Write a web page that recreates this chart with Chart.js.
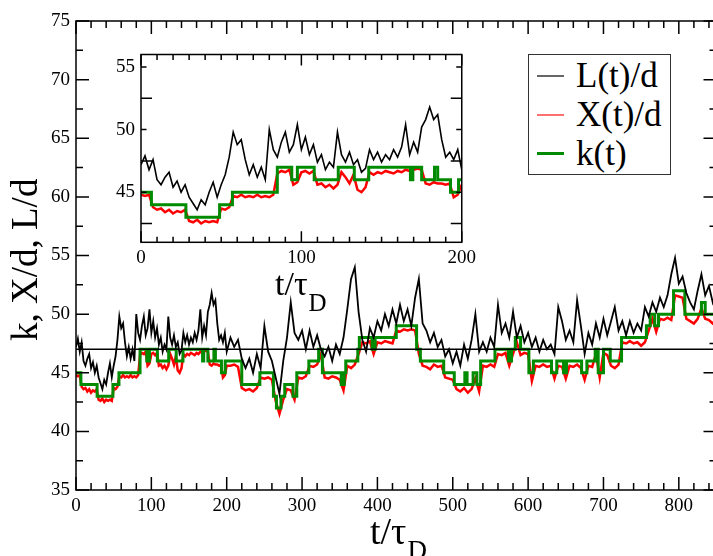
<!DOCTYPE html>
<html>
<head>
<meta charset="utf-8">
<script src="https://cdn.jsdelivr.net/npm/chart.js@4.4.1/dist/chart.umd.min.js"></script>
<style>
  body { margin: 0; background: #fff; }
  #wrap { position: relative; width: 713px; height: 556px; overflow: hidden; }
  #main { position: absolute; left: 0; top: 0; }
  #inset { position: absolute; left: 100px; top: 30px; }
  #legend { position: absolute; left: 528px; top: 54px; width: 143px; height: 121px;
    box-sizing: border-box; border: 1.5px solid #333; background: #fff;
    font-family: "Liberation Serif", "DejaVu Serif", serif; font-size: 35px; color: #000; }
  .row { position: absolute; left: 0; height: 40px; width: 140px; }
  .row .ln { position: absolute; left: 8px; width: 27px; }
  .row .tx { position: absolute; left: 47px; top: 0; line-height: 40px; white-space: nowrap; }
</style>
</head>
<body>
<div id="wrap">
  <canvas id="main" width="720" height="556"></canvas>
  <canvas id="inset" width="380" height="290"></canvas>
  <div id="legend">
    <div class="row" style="top:1px"><div class="ln" style="top:19px;height:1.5px;background:#666"></div><div class="tx">L(t)/d</div></div>
    <div class="row" style="top:40px"><div class="ln" style="top:19px;height:1.5px;background:#ff7070"></div><div class="tx">X(t)/d</div></div>
    <div class="row" style="top:79px"><div class="ln" style="top:18px;height:3px;background:#008b00"></div><div class="tx">k(t)</div></div>
  </div>
</div>
<script>
// time axis (t / tau_D): every 2.5 up to 200 (inset range), then every 5
const times = [
  0, 2.5, 5, 7.5, 10, 12.5, 15, 17.5, 20, 22.5,
  25, 27.5, 30, 32.5, 35, 37.5, 40, 42.5, 45, 47.5,
  50, 52.5, 55, 57.5, 60, 62.5, 65, 67.5, 70, 72.5,
  75, 77.5, 80, 82.5, 85, 87.5, 90, 92.5, 95, 97.5,
  100, 102.5, 105, 107.5, 110, 112.5, 115, 117.5, 120, 122.5,
  125, 127.5, 130, 132.5, 135, 137.5, 140, 142.5, 145, 147.5,
  150, 152.5, 155, 157.5, 160, 162.5, 165, 167.5, 170, 172.5,
  175, 177.5, 180, 182.5, 185, 187.5, 190, 192.5, 195, 197.5,
  200, 205, 210, 215, 220, 225, 230, 235, 240, 245,
  250, 255, 260, 265, 270, 275, 280, 285, 290, 295,
  300, 305, 310, 315, 320, 325, 330, 335, 340, 345,
  350, 355, 360, 365, 370, 375, 380, 385, 390, 395,
  400, 405, 410, 415, 420, 425, 430, 435, 440, 445,
  450, 455, 460, 465, 470, 475, 480, 485, 490, 495,
  500, 505, 510, 515, 520, 525, 530, 535, 540, 545,
  550, 555, 560, 565, 570, 575, 580, 585, 590, 595,
  600, 605, 610, 615, 620, 625, 630, 635, 640, 645,
  650, 655, 660, 665, 670, 675, 680, 685, 690, 695,
  700, 705, 710, 715, 720, 725, 730, 735, 740, 745,
  750, 755, 760, 765, 770, 775, 780, 785, 790, 795,
  800, 805, 810, 815, 820, 825, 830, 835, 840, 845,
  850
];

// L(t)/d
const lengthL = [
  47.2, 47.9, 46.8, 47.6, 46.0, 45.6, 46.2, 46.6, 45.4, 45.9,
  45.0, 45.6, 44.6, 44.1, 43.6, 44.4, 44.0, 45.0, 45.8, 44.6,
  45.6, 46.4, 47.8, 49.8, 48.8, 49.2, 47.6, 46.4, 47.2, 46.2,
  47.0, 46.0, 50.0, 48.4, 47.8, 49.0, 49.8, 48.2, 48.8, 50.4,
  48.4, 49.4, 48.0, 48.8, 47.4, 48.0, 46.8, 47.4, 47.0, 49.8,
  48.0, 47.4, 48.2, 47.2, 47.6, 46.6, 46.9, 48.4, 47.6, 48.2,
  47.4, 48.0, 47.6, 48.4, 47.8, 48.6, 50.4, 48.0, 49.0, 48.2,
  50.2, 50.8, 51.8, 50.8, 51.2, 49.2, 47.8, 48.2, 47.6, 48.4,
  46.8, 48.0, 47.2, 47.8, 46.2, 45.4, 46.2, 45.0, 46.6, 45.4,
  49.0, 46.8, 46.0, 44.6, 43.2, 46.0, 48.0, 51.0, 48.4, 47.8,
  48.6, 47.0, 48.6, 47.2, 48.2, 47.0, 46.4, 47.2, 46.0, 47.4,
  46.6, 48.0, 50.4, 53.0, 54.0, 50.2, 47.8, 46.8, 48.8, 48.0,
  49.4, 48.6, 50.0, 49.0, 50.4, 49.2, 50.8, 49.4, 50.4, 49.0,
  51.4, 53.0, 49.2, 48.6, 47.6, 48.4, 47.2, 47.8, 46.4, 47.0,
  45.8, 46.8, 45.6, 47.4, 46.2, 47.8, 50.0, 46.8, 47.6, 46.8,
  48.0, 47.2, 50.8, 48.4, 49.2, 48.0, 50.2, 48.0, 49.0, 47.6,
  48.4, 47.2, 48.0, 46.8, 47.8, 47.0, 47.4, 46.6, 50.6, 49.4,
  47.8, 48.6, 47.6, 51.2, 49.0, 46.6, 48.4, 47.4, 49.2, 48.0,
  49.6, 48.2, 49.4, 50.6, 48.6, 49.4, 48.2, 49.4, 48.4, 49.2,
  48.6, 50.6, 49.8, 51.0, 50.2, 51.4, 50.6, 51.6, 53.4, 54.8,
  52.6, 53.2, 51.8, 51.0, 50.4, 52.0, 53.4, 51.6, 52.4, 51.0,
  52.0
];

// X(t)/d
const positionX = [
  44.8, 44.7, 44.8, 43.8, 43.6, 43.7, 43.4, 43.6, 43.3, 43.5,
  43.4, 43.6, 42.7, 42.6, 42.8, 42.5, 42.7, 42.6, 42.7, 42.6,
  43.7, 43.6, 43.8, 44.7, 44.6, 44.8, 44.6, 44.7, 44.6, 44.8,
  44.6, 44.7, 44.6, 44.8, 46.5, 46.7, 46.6, 46.8, 45.6, 45.8,
  46.6, 46.7, 46.5, 46.7, 45.6, 45.7, 45.4, 45.6, 45.3, 45.6,
  46.6, 46.2, 45.7, 46.4, 45.2, 45.0, 45.4, 46.6, 46.4, 46.6,
  46.5, 46.7, 46.6, 46.5, 46.7, 46.6, 46.8, 46.7, 46.8, 46.9,
  46.8, 45.7, 45.6, 45.8, 45.7, 45.7, 45.6, 45.7, 44.6, 44.8,
  45.6, 45.6, 45.7, 45.5, 43.7, 43.5, 43.6, 43.4, 43.7, 44.6,
  44.5, 44.6, 44.4, 42.6, 41.5, 42.7, 43.6, 43.5, 42.7, 44.6,
  44.5, 44.7, 45.6, 45.5, 45.7, 46.6, 44.6, 44.5, 44.7, 44.6,
  44.4, 43.5, 45.6, 45.4, 45.7, 46.6, 47.6, 47.5, 47.7, 46.6,
  47.6, 47.5, 47.7, 47.6, 47.5, 48.6, 48.5, 48.7, 48.6, 48.7,
  48.6, 46.6, 45.6, 45.5, 45.3, 45.7, 45.5, 45.6, 44.6, 44.5,
  44.4, 43.6, 43.4, 43.7, 43.3, 43.6, 44.5, 43.4, 45.6, 45.5,
  45.7, 45.5, 46.6, 46.5, 46.7, 45.6, 46.6, 47.6, 46.5, 46.7,
  46.6, 44.3, 45.6, 45.5, 45.7, 45.5, 45.6, 44.5, 45.6, 45.5,
  44.5, 45.6, 45.5, 45.7, 45.4, 44.4, 45.6, 45.5, 46.6, 44.6,
  46.7, 46.5, 45.6, 45.4, 45.7, 47.6, 47.5, 47.7, 47.5, 47.6,
  47.3, 47.6, 48.6, 49.6, 48.5, 49.6, 49.5, 49.7, 49.5, 51.6,
  51.5, 51.4, 49.6, 49.4, 49.2, 49.6, 50.5, 49.6, 49.5, 49.2,
  49.5
];

// k(t): times where k jumps, and the value held from there
const kTimes = [
  0, 6.5, 28, 49, 57, 85, 94, 97.5, 108, 123,
  133, 142, 168, 169.5, 175, 183, 185, 193, 198, 220,
  244, 262, 266, 272, 277, 288, 293, 309, 322, 327,
  352, 356, 358, 374, 376, 393, 397, 425, 452, 457,
  488, 502, 516, 519, 527, 532, 537, 556, 574, 578,
  583, 590, 601, 607, 631, 638, 647, 651, 671, 678,
  689, 693, 700, 709, 724, 757, 762, 768, 773, 793,
  808, 830, 835, 850
];
const kValues = [
  45, 44, 43, 44, 45, 47, 46, 47, 46, 47,
  46, 47, 46, 47, 46, 47, 46, 45, 46, 44,
  45, 43, 42, 43, 44, 43, 45, 46, 47, 45,
  44, 45, 46, 47, 48, 47, 48, 49, 47, 46,
  45, 44, 45, 44, 45, 44, 46, 47, 46, 47,
  48, 47, 45, 46, 45, 46, 45, 46, 45, 46,
  47, 45, 47, 46, 48, 49, 50, 49, 50, 52,
  50, 51, 50, 50
];

const refLevel = 47;   // horizontal reference line in the main panel
const mainYTicks = [35, 40, 45, 50, 55, 60, 65, 70, 75];
const mainXTicks = [0, 100, 200, 300, 400, 500, 600, 700, 800];
const insetYTicks = [45, 50, 55];
const insetXTicks = [0, 100, 200];

const SERIF = '"Liberation Serif", "DejaVu Serif", serif';

function pts(xs, ys) { return xs.map((t, i) => ({ x: t, y: ys[i] })); }

function makeDatasets(withRef, lw) {
  const ds = [];
  if (withRef) {
    ds.push({ data: [{ x: 0, y: refLevel }, { x: 850, y: refLevel }], borderColor: '#000', borderWidth: 1.5 });
  }
  ds.push({ data: pts(times, lengthL), borderColor: '#000', borderWidth: lw });
  ds.push({ data: pts(kTimes, kValues), borderColor: '#008b00', borderWidth: 3, stepped: true });
  ds.push({ data: pts(times, positionX), borderColor: '#ff0000', borderWidth: 2.5 });
  return ds;
}

// frame with inward ticks on all four sides, plus axis titles
const frameTicks = {
  id: 'frameTicks',
  beforeDraw(chart, args, o) {
    if (!o.fillWhite) return;
    const { ctx, chartArea: a } = chart;
    ctx.save();
    ctx.fillStyle = '#fff';
    ctx.fillRect(a.left, a.top, a.right - a.left, a.bottom - a.top);
    ctx.restore();
  },
  afterDraw(chart, args, o) {
    const { ctx, chartArea: a, scales: { x, y } } = chart;
    ctx.save();
    ctx.strokeStyle = '#000';
    ctx.lineWidth = o.lw;
    ctx.strokeRect(a.left, a.top, a.right - a.left, a.bottom - a.top);
    ctx.beginPath();
    for (let v = x.min; v <= x.max + 1e-6; v += o.xMinor) {
      const len = Math.abs(v % o.xMajor) < 1e-6 ? o.major : o.minor;
      const px = x.getPixelForValue(v);
      ctx.moveTo(px, a.bottom); ctx.lineTo(px, a.bottom - len);
      ctx.moveTo(px, a.top); ctx.lineTo(px, a.top + len);
    }
    for (let v = o.yStart; v <= y.max + 1e-6; v += o.yMinor) {
      const len = Math.abs((v - o.yStart) % o.yMajor) < 1e-6 ? o.major : o.minor;
      const py = y.getPixelForValue(v);
      ctx.moveTo(a.left, py); ctx.lineTo(a.left + len, py);
      ctx.moveTo(a.right, py); ctx.lineTo(a.right - len, py);
    }
    ctx.stroke();
    ctx.fillStyle = '#000';
    ctx.textBaseline = 'alphabetic';
    ctx.textAlign = 'left';
    (o.texts || []).forEach(t => {
      ctx.save();
      ctx.translate(t.x, t.y);
      if (t.rot) ctx.rotate(t.rot);
      ctx.font = t.size + 'px ' + SERIF;
      ctx.fillText(t.s, 0, 0);
      if (t.sub) {
        const w = ctx.measureText(t.s).width;
        ctx.font = t.subSize + 'px ' + SERIF;
        ctx.fillText(t.sub, w + 1, t.subDy);
      }
      ctx.restore();
    });
    ctx.restore();
  }
};

function axisOpts(min, max, tickVals, fit, pad) {
  return {
    type: 'linear', min: min, max: max,
    afterBuildTicks: s => { s.ticks = tickVals.map(v => ({ value: v })); },
    afterFit: fit,
    grid: { display: false, drawTicks: false },
    border: { display: false },
    ticks: { font: { family: SERIF, size: 19 }, color: '#000', padding: pad, maxRotation: 0 }
  };
}

new Chart(document.getElementById('main'), {
  type: 'line',
  data: { datasets: makeDatasets(true, 1.8) },
  options: {
    responsive: false, animation: false,
    elements: { point: { radius: 0 }, line: { tension: 0 } },
    layout: { padding: { top: 21, right: 3.5, left: 0, bottom: 0 } },
    scales: {
      x: axisOpts(0, 850, mainXTicks, s => { s.height = 66; }, 5),
      y: axisOpts(35, 75, mainYTicks, s => { s.width = 76; }, 6)
    },
    plugins: {
      legend: { display: false }, tooltip: { enabled: false },
      frameTicks: {
        lw: 1.5, major: 13, minor: 7, xMajor: 100, xMinor: 20, yStart: 35, yMajor: 5, yMinor: 2.5,
        texts: [
          { s: 't/τ', sub: 'D', x: 370, y: 544, size: 38, subSize: 27, subDy: 15 },
          { s: 'k, X/d, L/d', x: 37, y: 341, rot: -Math.PI / 2, size: 37 }
        ]
      }
    }
  },
  plugins: [frameTicks]
});

// inset canvas sits at (100, 30); its plot box spans x 141..463, y 54.5..242.3 on the page
new Chart(document.getElementById('inset'), {
  type: 'line',
  data: { datasets: makeDatasets(false, 1.6) },
  options: {
    responsive: false, animation: false,
    elements: { point: { radius: 0 }, line: { tension: 0 } },
    layout: { padding: { top: 24.5, right: 16.7, left: 0, bottom: 0 } },
    scales: {
      x: axisOpts(0, 200, insetXTicks, s => { s.height = 77.7; }, 4),
      y: axisOpts(41, 56, insetYTicks, s => { s.width = 41; }, 6)
    },
    plugins: {
      legend: { display: false }, tooltip: { enabled: false },
      frameTicks: {
        fillWhite: true,
        lw: 1.5, major: 11, minor: 5.5, xMajor: 100, xMinor: 10, yStart: 42.5, yMajor: 5, yMinor: 2.5,
        texts: [
          { s: 't/τ', sub: 'D', x: 175, y: 265, size: 34, subSize: 25, subDy: 16 }
        ]
      }
    }
  },
  plugins: [frameTicks]
});
</script>
</body>
</html>
